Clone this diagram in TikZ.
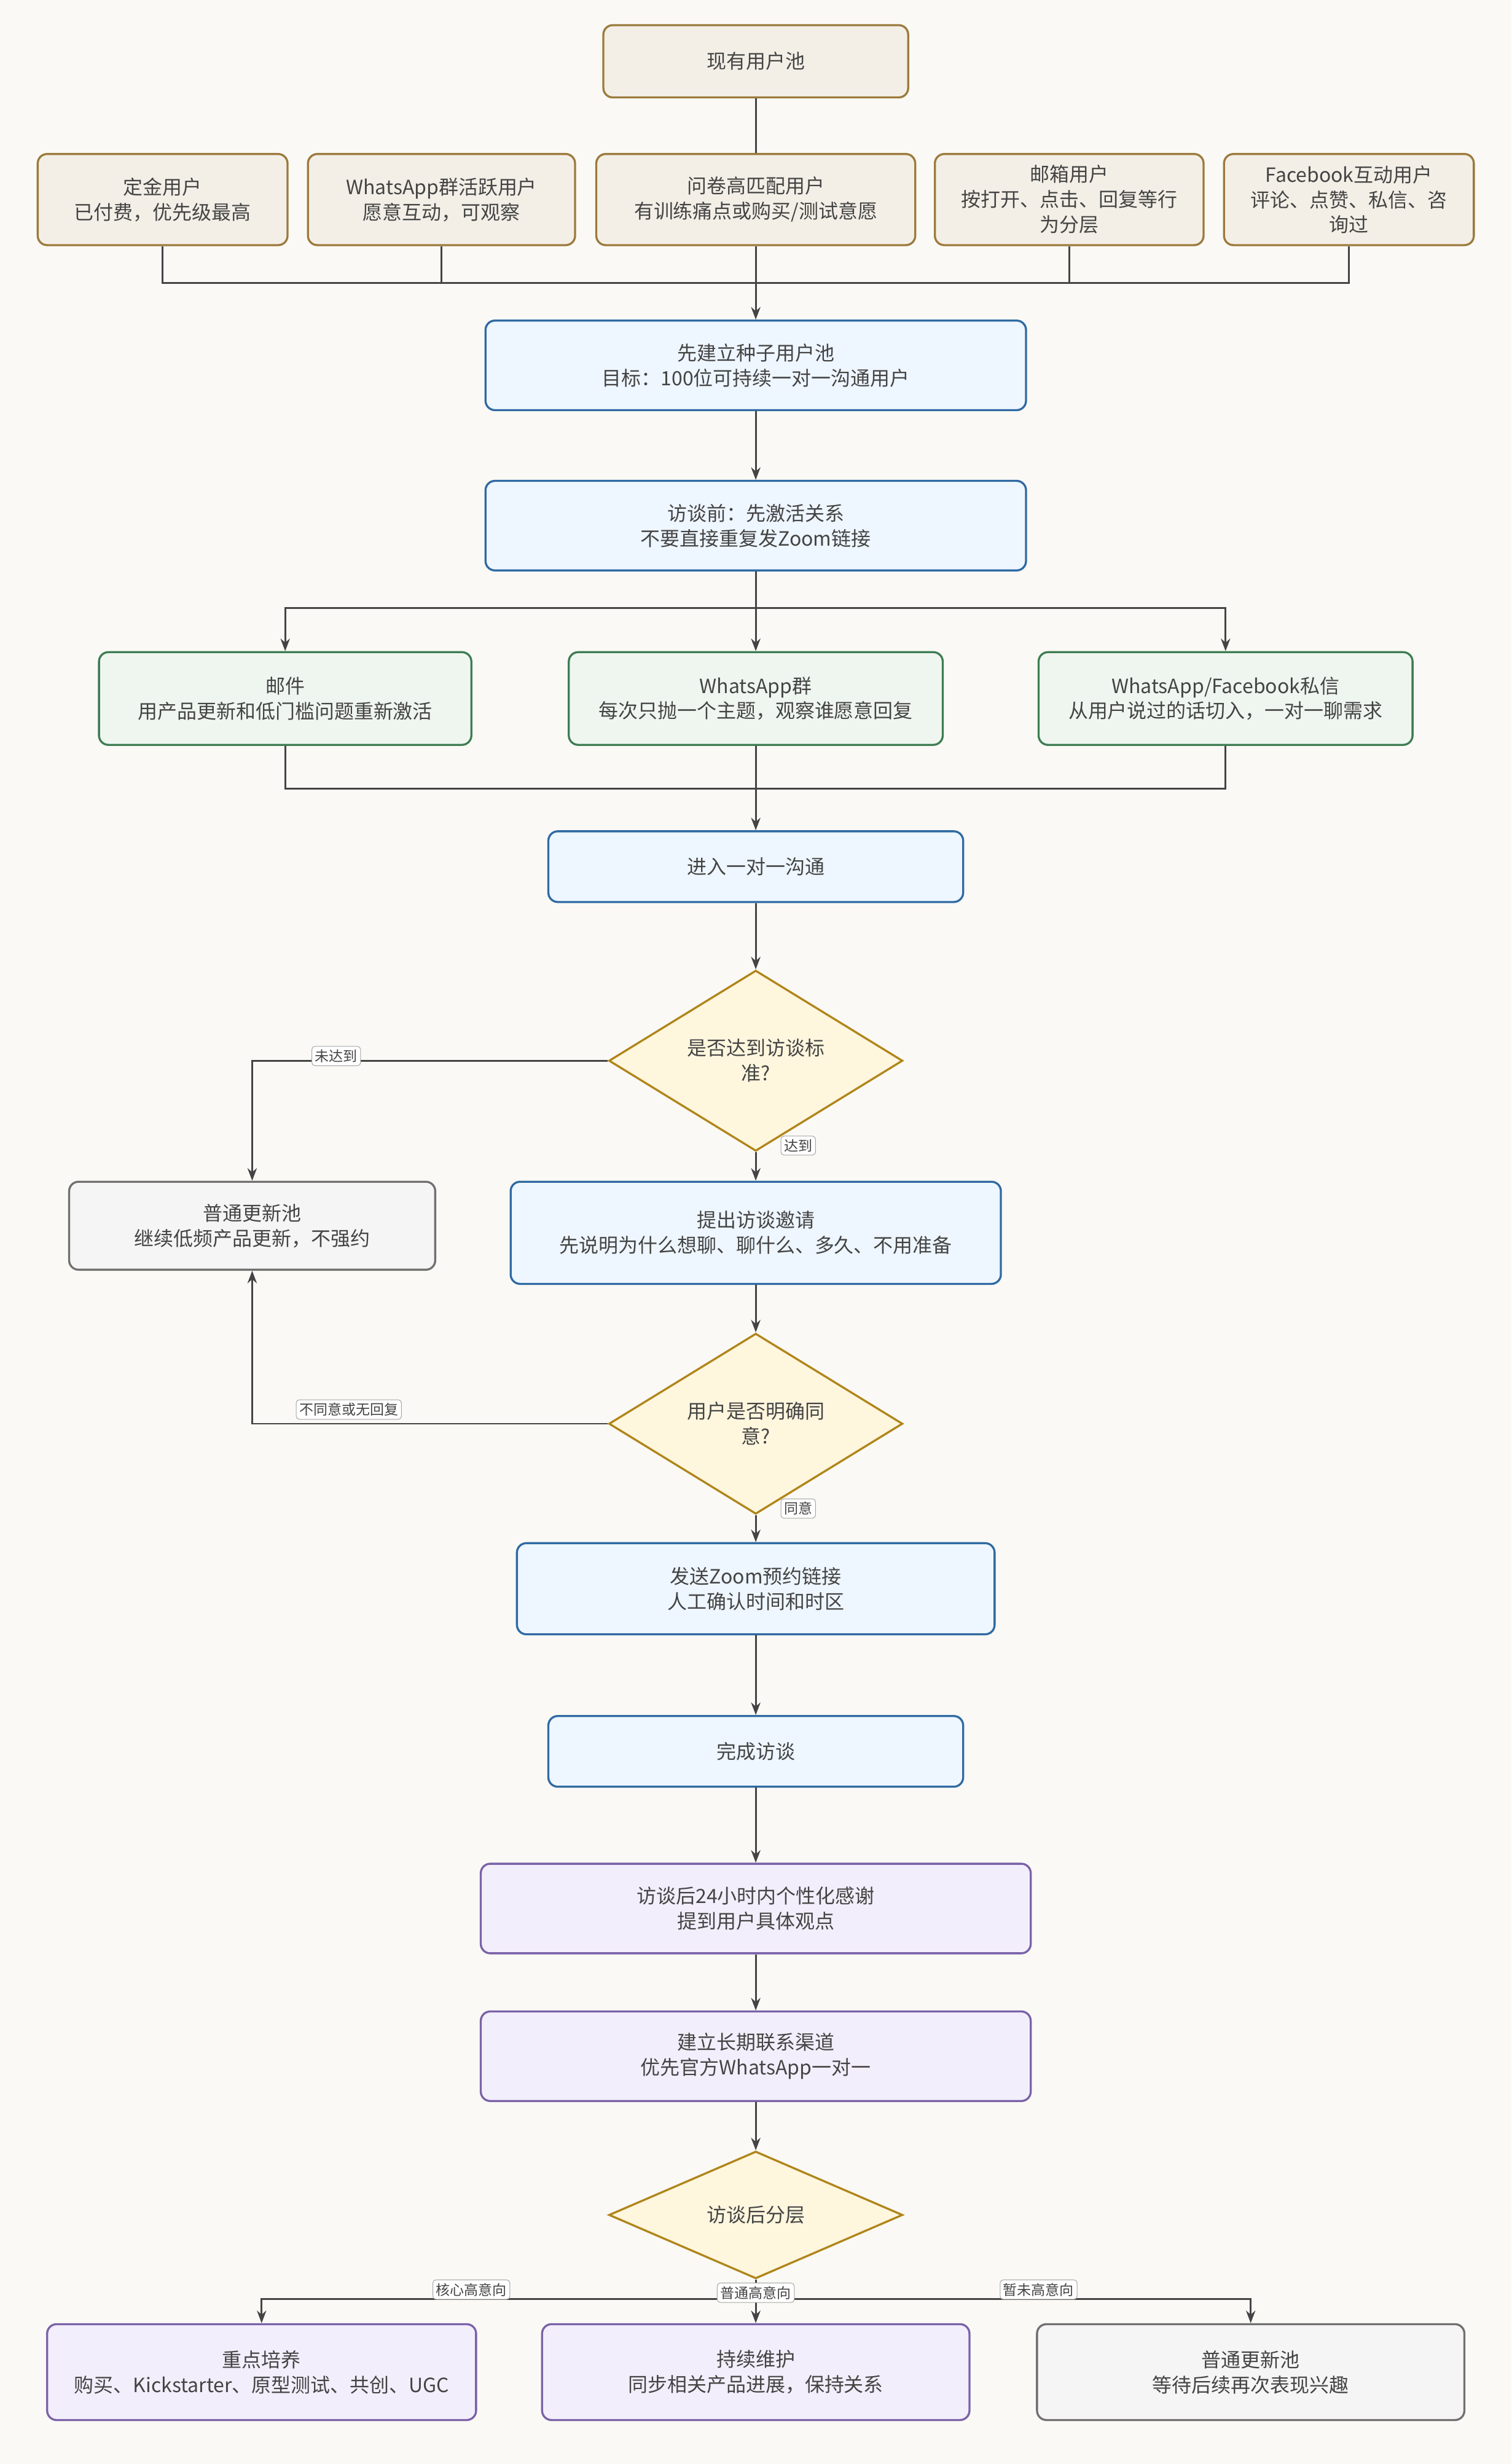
\documentclass[tikz,border=0pt]{standalone}
\usepackage{fontspec}
\setmainfont{Noto Sans CJK SC}
\usetikzlibrary{shapes.geometric,arrows.meta}
\definecolor{bg}{HTML}{FAF9F5}
\definecolor{tx}{HTML}{444444}
\definecolor{ln}{HTML}{444444}
\definecolor{bgF}{HTML}{F3EFE7}\definecolor{bgS}{HTML}{9C7A3C}
\definecolor{blF}{HTML}{EEF6FF}\definecolor{blS}{HTML}{2F6AA3}
\definecolor{grF}{HTML}{EFF6F0}\definecolor{grS}{HTML}{3E7D52}
\definecolor{dmF}{HTML}{FFF6DE}\definecolor{dmS}{HTML}{B0851A}
\definecolor{gyF}{HTML}{F5F5F5}\definecolor{gyS}{HTML}{707070}
\definecolor{puF}{HTML}{F3EEFB}\definecolor{puS}{HTML}{7A62A8}
\tikzset{
 box/.style={draw,rounded corners=6pt,line width=1.3pt,align=center,text=tx,inner sep=2pt,font=\fontsize{12.5}{16}\selectfont},
 beige/.style={box,fill=bgF,draw=bgS},
 blue/.style={box,fill=blF,draw=blS},
 green/.style={box,fill=grF,draw=grS},
 gray/.style={box,fill=gyF,draw=gyS},
 purple/.style={box,fill=puF,draw=puS},
 dia/.style={diamond,draw=dmS,fill=dmF,line width=1.3pt,align=center,text=tx,inner sep=0pt,minimum width=187pt,minimum height=82pt,font=\fontsize{12.5}{16}\selectfont},
 conn/.style={draw=ln,line width=1.1pt},
 arr/.style={conn,-{Stealth[length=8pt,width=6pt]}},
 elab/.style={draw=gray!70,fill=white,rounded corners=2pt,text=tx,inner sep=2pt,font=\fontsize{9}{10}\selectfont},
}
\begin{document}
\begin{tikzpicture}[x=1pt,y=-1pt]
\useasboundingbox[fill=bg] (0,0) rectangle (962,1568);
\node[beige,minimum width=194pt,minimum height=46pt] (pool) at (481,39) {现有用户池};
\node[beige,minimum width=159pt,minimum height=58pt] (a1) at (103.5,127) {定金用户\\已付费，优先级最高};
\node[beige,minimum width=170pt,minimum height=58pt] (a2) at (281,127) {WhatsApp群活跃用户\\愿意互动，可观察};
\node[beige,minimum width=203pt,minimum height=58pt] (a3) at (481,127) {问卷高匹配用户\\有训练痛点或购买/测试意愿};
\node[beige,minimum width=171pt,minimum height=58pt] (a4) at (680.5,127) {邮箱用户\\按打开、点击、回复等行\\为分层};
\node[beige,minimum width=159pt,minimum height=58pt] (a5) at (858.5,127) {Facebook互动用户\\评论、点赞、私信、咨\\询过};
\node[blue,minimum width=344pt,minimum height=57pt] (seed) at (481,232.5) {先建立种子用户池\\目标：100位可持续一对一沟通用户};
\node[blue,minimum width=344pt,minimum height=57pt] (act) at (481,334.5) {访谈前：先激活关系\\不要直接重复发Zoom链接};
\node[green,minimum width=237pt,minimum height=59pt] (c1) at (181.5,444.5) {邮件\\用产品更新和低门槛问题重新激活};
\node[green,minimum width=238pt,minimum height=59pt] (c2) at (481,444.5) {WhatsApp群\\每次只抛一个主题，观察谁愿意回复};
\node[green,minimum width=238pt,minimum height=59pt] (c3) at (780,444.5) {WhatsApp/Facebook私信\\从用户说过的话切入，一对一聊需求};
\node[blue,minimum width=264pt,minimum height=45pt] (one) at (481,551.5) {进入一对一沟通};
\node[dia] (d1) at (481,675) {是否达到访谈标\\准?};
\node[gray,minimum width=233pt,minimum height=56pt] (p1) at (160.5,780) {普通更新池\\继续低频产品更新，不强约};
\node[blue,minimum width=312pt,minimum height=65pt] (inv) at (481,784.5) {提出访谈邀请\\先说明为什么想聊、聊什么、多久、不用准备};
\node[dia,minimum height=80pt] (d2) at (481,906) {用户是否明确同\\意?};
\node[blue,minimum width=304pt,minimum height=58pt] (zoom) at (481,1011) {发送Zoom预约链接\\人工确认时间和时区};
\node[blue,minimum width=264pt,minimum height=45pt] (done) at (481,1114.5) {完成访谈};
\node[purple,minimum width=350pt,minimum height=57pt] (thx) at (481,1214.5) {访谈后24小时内个性化感谢\\提到用户具体观点};
\node[purple,minimum width=350pt,minimum height=57pt] (long) at (481,1308.5) {建立长期联系渠道\\优先官方WhatsApp一对一};
\node[dia,minimum height=81pt] (d3) at (481,1409.5) {访谈后分层};
\node[purple,minimum width=273pt,minimum height=61pt] (e1) at (166.5,1509.5) {重点培养\\购买、Kickstarter、原型测试、共创、UGC};
\node[purple,minimum width=272pt,minimum height=61pt] (e2) at (481,1509.5) {持续维护\\同步相关产品进展，保持关系};
\node[gray,minimum width=272pt,minimum height=61pt] (e3) at (796,1509.5) {普通更新池\\等待后续再次表现兴趣};
% connectors
\coordinate (bus) at (481,180);
\draw[conn] (pool) -- (a3);
\foreach \n in {a1,a2,a3,a4,a5} \draw[conn] (\n.south) |- (bus);
\draw[arr] (bus) -- (seed);
\draw[arr] (seed) -- (act);
\coordinate (split) at (481,387);
\draw[conn] (act.south) -- (split);
\foreach \n in {c1,c2,c3} \draw[arr] (split) -| (\n.north);
\coordinate (join) at (481,502);
\foreach \n in {c1,c2,c3} \draw[conn] (\n.south) |- (join);
\draw[arr] (join) -- (one);
\draw[arr] (one) -- (d1);
\draw[arr] (d1.west) -| (p1.north);
\node[elab] (l1) at (214,672) {未达到};
\draw[arr] (d1.south) -- (inv.north);
\node[elab] (l2) at (508,729) {达到};
\draw[arr] (inv) -- (d2);
\draw[arr] (d2.west) -| (p1.south);
\node[elab] (l3) at (222,897) {不同意或无回复};
\draw[arr] (d2.south) -- (zoom.north);
\node[elab] (l4) at (508,960) {同意};
\draw[arr] (zoom) -- (done);
\draw[arr] (done) -- (thx);
\draw[arr] (thx) -- (long);
\draw[arr] (long) -- (d3);
\coordinate (split2) at (481,1463);
\draw[conn] (d3.south) -- (split2);
\foreach \n in {e1,e2,e3} \draw[arr] (split2) -| (\n.north);
\node[elab] (l5) at (300,1457) {核心高意向};
\node[elab] (l6) at (481,1459) {普通高意向};
\node[elab] (l7) at (661,1457) {暂未高意向};
\end{tikzpicture}
\end{document}
